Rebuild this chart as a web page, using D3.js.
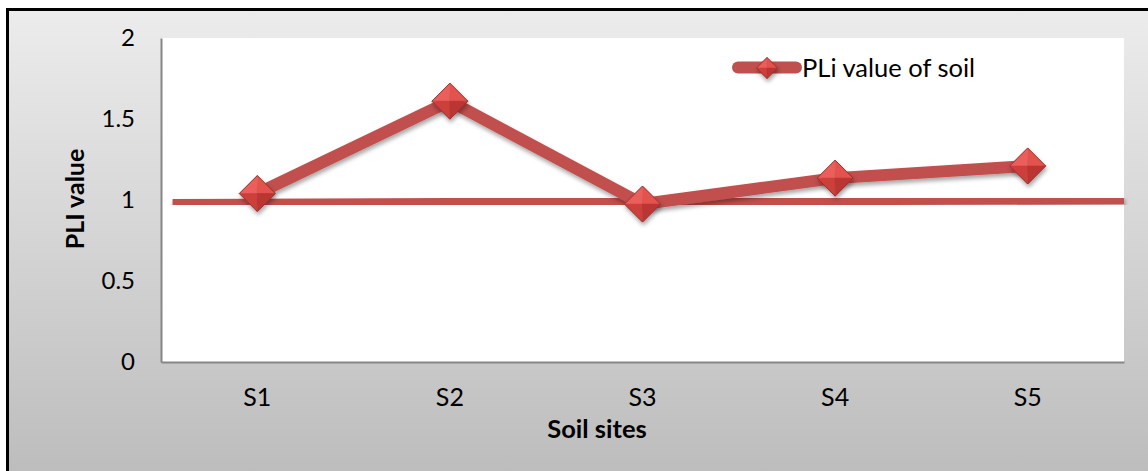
<!DOCTYPE html>
<html>
<head>
<meta charset="utf-8">
<script src="https://cdn.jsdelivr.net/npm/d3@7"></script>
<style>
  html, body { margin: 0; padding: 0; background: #ffffff; }
  svg { display: block; }
  text { font-family: "Lato", "Open Sans", sans-serif; fill: #000; }
</style>
</head>
<body>
<svg id="chart" width="1148" height="471"></svg>
<script>
// Pollution Load Index per soil site
const sites = ["S1", "S2", "S3", "S4", "S5"];
const pliValues = [1.04, 1.61, 0.975, 1.135, 1.21];
const yTicks = [0, 0.5, 1, 1.5, 2];
const yTickLabels = ["0", "0.5", "1", "1.5", "2"];
// Baseline at PLI = 1, given as [site index, value] end points
const baselinePos = [-0.44, 4.5];
const baselineValues = [0.98, 1.0];
const seriesName = "PLi value of soil";
const xTitle = "Soil sites";
const yTitle = "PLI value";

const W = 1148, H = 471;
const plot = { left: 161, top: 38, right: 1124, bottom: 362 };
const red = "#c0504d";

const svg = d3.select("#chart");
const defs = svg.append("defs");

// chart area background: light grey fading darker towards the bottom
const bg = defs.append("linearGradient").attr("id", "bgGrad")
  .attr("x1", 0).attr("y1", 0).attr("x2", 0).attr("y2", 1);
bg.append("stop").attr("offset", "0%").attr("stop-color", "#ececec");
bg.append("stop").attr("offset", "100%").attr("stop-color", "#bbbbbb");

// soft drop shadow under the lines and markers
const sh = defs.append("filter").attr("id", "shadow")
  .attr("x", "-20%").attr("y", "-50%").attr("width", "140%").attr("height", "200%");
sh.append("feDropShadow").attr("dx", 1).attr("dy", 3)
  .attr("stdDeviation", 2).attr("flood-color", "#000").attr("flood-opacity", 0.35);

svg.append("rect").attr("x", 7.5).attr("y", 9.5)
  .attr("width", W + 10).attr("height", H + 10)
  .attr("fill", "url(#bgGrad)").attr("stroke", "#000").attr("stroke-width", 3);

// scales
const x = d3.scaleBand().domain(sites).range([plot.left, plot.right]).padding(0);
const xIdx = d3.scaleLinear().domain([0, sites.length - 1])
  .range([x(sites[0]) + x.bandwidth() / 2, x(sites[sites.length - 1]) + x.bandwidth() / 2]);
const y = d3.scaleLinear().domain([0, 2]).range([plot.bottom, plot.top]);

// plot area
svg.append("rect").attr("x", plot.left).attr("y", plot.top)
  .attr("width", plot.right - plot.left).attr("height", plot.bottom - plot.top)
  .attr("fill", "#ffffff");

// axes
const yAxis = d3.axisLeft(y).tickValues(yTicks)
  .tickFormat((d, i) => yTickLabels[i]).tickSize(0).tickPadding(26);
const gy = svg.append("g").attr("transform", `translate(${plot.left},0)`).call(yAxis);
gy.select(".domain").attr("stroke", "#868686").attr("stroke-width", 2);
gy.selectAll("text").attr("font-size", 24).attr("dy", "0.32em")
  .style("font-family", "Lato, sans-serif").attr("fill", "#000");

const xAxis = d3.axisBottom(x).tickSize(0).tickPadding(26);
const gx = svg.append("g").attr("transform", `translate(0,${plot.bottom})`).call(xAxis);
gx.select(".domain").attr("stroke", "#868686").attr("stroke-width", 2);
gx.selectAll("text").attr("font-size", 25).attr("dy", "0.72em")
  .style("font-family", "Lato, sans-serif").attr("fill", "#000");

// axis titles
svg.append("text").attr("x", 597).attr("y", 438)
  .attr("text-anchor", "middle").attr("font-size", 25.5).attr("font-weight", "bold")
  .text(xTitle);
svg.append("text").attr("transform", `translate(84,199) rotate(-90)`)
  .attr("text-anchor", "middle").attr("font-size", 25).attr("font-weight", "bold")
  .text(yTitle);

// baseline at PLI = 1
const baseline = baselinePos.map((p, i) => ({ p, v: baselineValues[i] }));
svg.append("path").datum(baseline)
  .attr("d", d3.line().x(d => xIdx(d.p)).y(d => y(d.v)))
  .attr("fill", "none").attr("stroke", red).attr("stroke-width", 8.5)
  .attr("filter", "url(#shadow)");

// PLI series
const pts = sites.map((s, i) => ({ s, v: pliValues[i] }));
svg.append("path").datum(pts)
  .attr("d", d3.line().x(d => x(d.s) + x.bandwidth() / 2).y(d => y(d.v)))
  .attr("fill", "none").attr("stroke", red).attr("stroke-width", 12)
  .attr("stroke-linejoin", "round").attr("filter", "url(#shadow)");

// faceted diamond marker
function diamond(g, cx, cy, r) {
  const facets = [
    { pts: [[cx - r, cy], [cx, cy - r], [cx, cy]], fill: "#ea5f5b" },
    { pts: [[cx, cy - r], [cx + r, cy], [cx, cy]], fill: "#e2524e" },
    { pts: [[cx - r, cy], [cx, cy], [cx, cy + r]], fill: "#cc3f3b" },
    { pts: [[cx, cy], [cx + r, cy], [cx, cy + r]], fill: "#bb3632" }
  ];
  const m = g.append("g").attr("filter", "url(#shadow)");
  facets.forEach(f => m.append("path")
    .attr("d", "M" + f.pts.map(p => p.join(",")).join("L") + "Z")
    .attr("fill", f.fill).attr("stroke", f.fill).attr("stroke-width", 0.5));
  m.append("path")
    .attr("d", `M${cx - r},${cy}L${cx},${cy - r}L${cx + r},${cy}L${cx},${cy + r}Z`)
    .attr("fill", "none").attr("stroke", "#9a2f2c").attr("stroke-width", 1);
}
const markers = svg.append("g");
pts.forEach(d => diamond(markers, x(d.s) + x.bandwidth() / 2, y(d.v), 18));

// legend
const lg = svg.append("g");
lg.append("line").attr("x1", 738).attr("x2", 796).attr("y1", 67.5).attr("y2", 67.5)
  .attr("stroke", red).attr("stroke-width", 12).attr("stroke-linecap", "round");
diamond(lg, 767, 68, 10.5);
lg.append("text").attr("x", 802).attr("y", 77).attr("font-size", 25.5).text(seriesName);
</script>
</body>
</html>
